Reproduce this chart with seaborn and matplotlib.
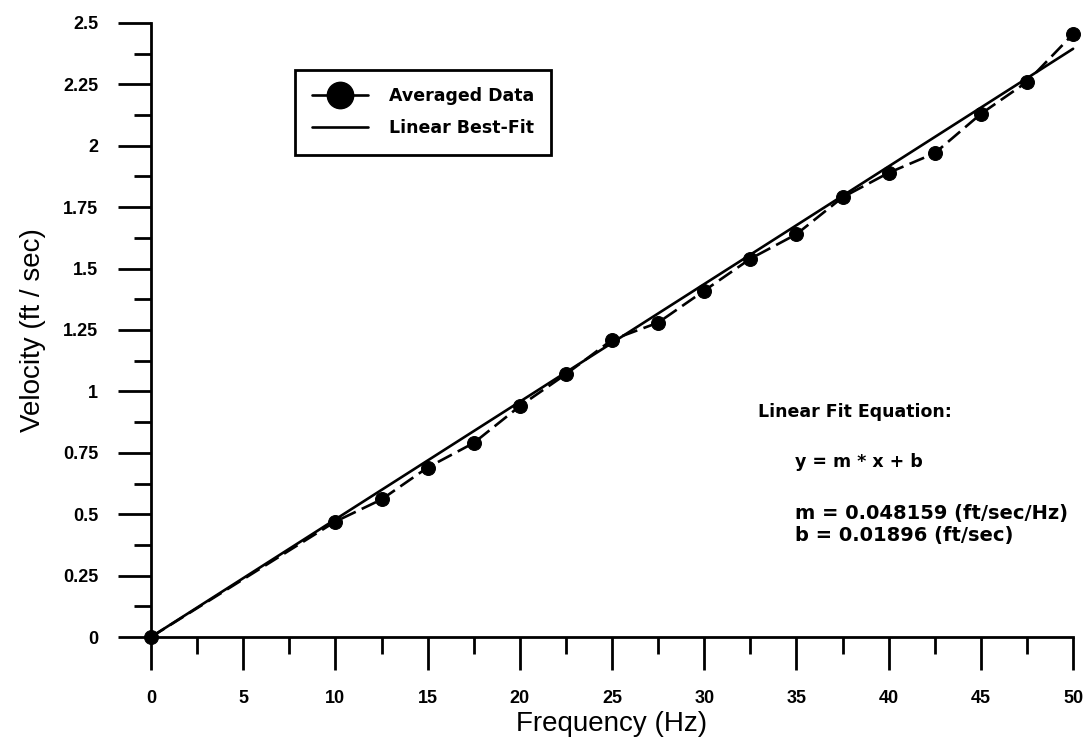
import numpy as np
import pandas as pd
import matplotlib
matplotlib.use("Agg")
import matplotlib.pyplot as plt
from matplotlib.lines import Line2D
from matplotlib.ticker import MultipleLocator, FixedLocator
import seaborn as sns

# ---- data ----
frequency_hz = [0, 10, 12.5, 15, 17.5, 20, 22.5, 25, 27.5, 30, 32.5, 35,
                37.5, 40, 42.5, 45, 47.5, 50]
velocity_fps = [0.0, 0.47, 0.56, 0.69, 0.79, 0.94, 1.07, 1.21, 1.28, 1.41,
                1.54, 1.64, 1.79, 1.89, 1.97, 2.13, 2.26, 2.455]
# best-fit line as drawn in the reference (end points)
fit_x = [0, 50]
fit_y = [0.0, 2.395]
fit_slope_text = "0.048159"
fit_intercept_text = "0.01896"
y_tick_values = [0, 0.25, 0.5, 0.75, 1, 1.25, 1.5, 1.75, 2, 2.25, 2.5]
y_tick_labels = ["0", "0.25", "0.5", "0.75", "1", "1.25", "1.5", "1.75", "2",
                 "2.25", "2.5"]
x_tick_values = [0, 5, 10, 15, 20, 25, 30, 35, 40, 45, 50]

df = pd.DataFrame({"Frequency": frequency_hz, "Velocity": velocity_fps})
fit_df = pd.DataFrame({"Frequency": fit_x, "Velocity": fit_y})

sns.set_theme(style="ticks")
plt.rcParams["font.family"] = ["Liberation Sans", "DejaVu Sans"]
plt.rcParams["text.color"] = "black"
plt.rcParams["axes.labelcolor"] = "black"

fig = plt.figure(figsize=(10.9, 7.46), dpi=100)
ax = fig.add_axes([0.1385, 0.1461, 0.846, 0.8231])

sns.lineplot(data=fit_df, x="Frequency", y="Velocity", ax=ax, color="black",
             linewidth=1.9, zorder=2)
sns.lineplot(data=df, x="Frequency", y="Velocity", ax=ax, color="black",
             linewidth=1.9, linestyle=(0, (6, 2.5)), marker="o", markersize=10,
             markeredgecolor="black", markerfacecolor="black", zorder=3)
for ln in ax.lines:
    ln.set_clip_on(False)

ax.set_xlim(0, 50)
ax.set_ylim(0, 2.5)
ax.xaxis.set_major_locator(FixedLocator(x_tick_values))
ax.xaxis.set_minor_locator(MultipleLocator(2.5))
ax.yaxis.set_major_locator(FixedLocator(y_tick_values))
ax.yaxis.set_minor_locator(MultipleLocator(0.125))
ax.set_yticklabels(y_tick_labels)
ax.set_xticklabels([str(v) for v in x_tick_values])

for side in ["top", "right"]:
    ax.spines[side].set_visible(False)
for side in ["left", "bottom"]:
    ax.spines[side].set_linewidth(2.0)
    ax.spines[side].set_color("black")

ax.tick_params(axis="both", which="major", direction="out", length=24,
               width=2.0, color="black", labelcolor="black", labelsize=13,
               pad=14)
ax.tick_params(axis="both", which="minor", direction="out", length=12,
               width=2.0, color="black")
for lbl in ax.get_xticklabels() + ax.get_yticklabels():
    lbl.set_fontweight("bold")

ax.set_xlabel("Frequency (Hz)", fontsize=20, labelpad=3, color="black")
ax.set_ylabel("Velocity (ft / sec)", fontsize=20, labelpad=12, color="black")

handles = [
    Line2D([], [], color="black", linewidth=1.9, marker="o", markersize=19,
           markerfacecolor="black"),
    Line2D([], [], color="black", linewidth=1.9),
]
leg = fig.legend(handles, ["Averaged Data", "Linear Best-Fit"],
                 loc="upper left", bbox_to_anchor=(0.2706, 0.906),
                 prop={"family": "DejaVu Sans", "weight": "bold", "size": 12.5},
                 frameon=True, fancybox=False, edgecolor="black",
                 handlelength=3.2, handletextpad=1.2, borderpad=1.0,
                 labelspacing=0.8, borderaxespad=0)
leg.get_frame().set_linewidth(2.0)
leg.get_frame().set_alpha(1)
for t in leg.get_texts():
    t.set_color("black")

txt_kw = dict(family="DejaVu Sans", weight="bold", color="black",
              va="center", ha="left")
fig.text(758 / 1090, 1 - 412 / 746, "Linear Fit Equation:", fontsize=12.5, **txt_kw)
fig.text(795 / 1090, 1 - 462 / 746, "y = m * x + b", fontsize=12.5, **txt_kw)
fig.text(795 / 1090, 1 - 513 / 746, f"m = {fit_slope_text} (ft/sec/Hz)",
         fontsize=14, **txt_kw)
fig.text(795 / 1090, 1 - 535 / 746, f"b = {fit_intercept_text} (ft/sec)",
         fontsize=14, **txt_kw)

fig.savefig("out.png", dpi=100, facecolor="white")
